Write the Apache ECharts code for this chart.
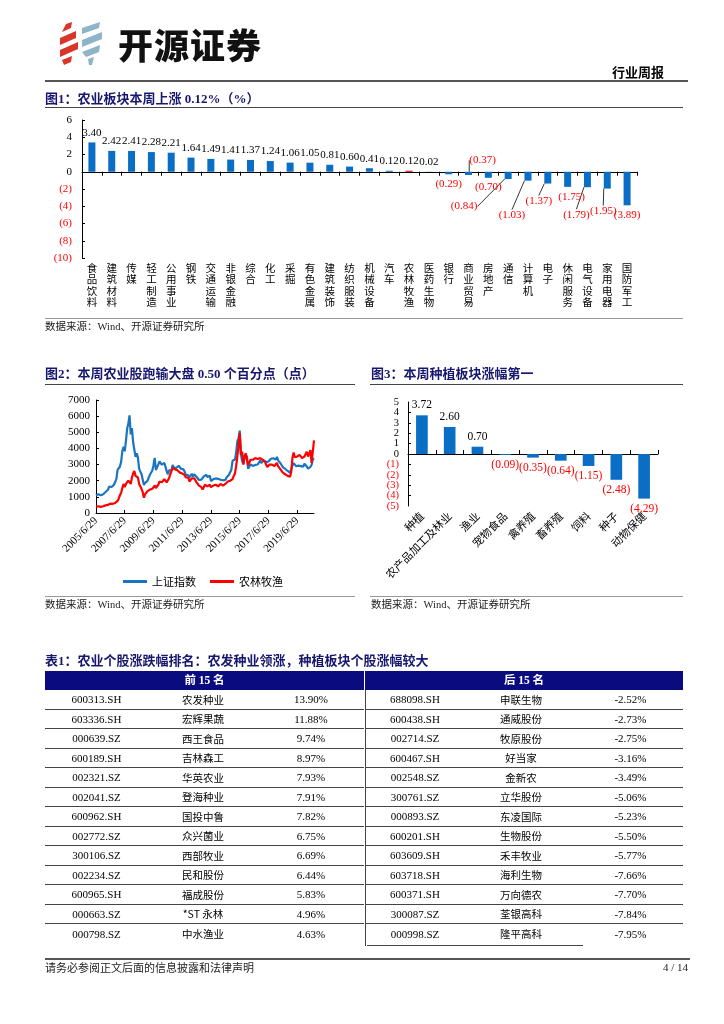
<!DOCTYPE html>
<html>
<head>
<meta charset="utf-8">
<script src="https://cdn.jsdelivr.net/npm/echarts@6/dist/echarts.min.js"></script>
<style>
  html,body{margin:0;padding:0;background:#fff;}
  body{width:724px;height:1024px;position:relative;overflow:hidden;font-family:"Liberation Serif","Noto Sans CJK SC",serif;color:#000;}
  #chart{position:absolute;left:0;top:0;width:724px;height:1024px;}
  .abs{position:absolute;white-space:nowrap;}
  .ttl{font-family:"Liberation Serif","Noto Sans CJK SC",serif;font-weight:bold;color:#17176f;font-size:13px;line-height:16px;}
  .src{font-family:"Liberation Serif","Noto Sans CJK SC",serif;font-size:10.5px;color:#222;line-height:14px;}
  .hl{position:absolute;height:0;border-top:1.5px solid #444;}
  .hlt{position:absolute;height:0;border-top:1px solid #999;}
  .row{position:absolute;height:19.5px;box-sizing:border-box;display:flex;align-items:center;font-size:11px;}
  .row.ln{border-bottom:1px solid #444;}
  .row span{display:block;text-align:center;}
</style>
</head>
<body>
<div id="chart"></div>

<!-- header logo -->
<svg class="abs" style="left:58px;top:22px" width="56" height="44" viewBox="0 0 56 44">
  <polygon points="8,2 14,0 13,6 4,10" fill="#d9362b"/>
  <polygon points="2,16 18,9 18,16 2,23" fill="#d9362b"/>
  <polygon points="2,28 20,20 20,27 2,35" fill="#d9362b"/>
  <polygon points="4,38 14,34 13,40 6,43" fill="#d9362b"/>
  <polygon points="24,6 42,0 41,6 24,12" fill="#8fb3c8"/>
  <polygon points="24,18 44,10 44,17 24,25" fill="#8fb3c8"/>
  <polygon points="24,30 42,23 41,30 28,35" fill="#8fb3c8"/>
  <polygon points="30,37 36,35 34,43 31,43" fill="#8fb3c8"/>
</svg>
<div class="abs" style="left:118px;top:22px;font-family:'Noto Sans CJK SC';font-weight:900;font-size:35px;line-height:44px;letter-spacing:1px;color:#111;">开源证券</div>
<div class="abs" style="left:612px;top:64px;font-family:'Noto Sans CJK SC';font-weight:bold;font-size:13px;line-height:16px;">行业周报</div>
<div class="hl" style="left:45px;top:80px;width:643px;border-top:2px solid #555;"></div>

<div class="abs ttl" style="left:45px;top:91px;">图1：农业板块本周上涨 0.12%（%）</div>
<div class="hl" style="left:45px;top:107px;width:638px;"></div>
<div class="hlt" style="left:45px;top:318px;width:638px;"></div>
<div class="abs src" style="left:45px;top:320px;">数据来源：Wind、开源证券研究所</div>

<div class="abs ttl" style="left:45px;top:366px;">图2：本周农业股跑输大盘 0.50 个百分点（点）</div>
<div class="hl" style="left:45px;top:384px;width:310px;"></div>
<div class="abs ttl" style="left:371px;top:366px;">图3：本周种植板块涨幅第一</div>
<div class="hl" style="left:370px;top:384px;width:313px;"></div>
<div class="hlt" style="left:45px;top:596px;width:310px;"></div>
<div class="hlt" style="left:370px;top:596px;width:313px;"></div>
<div class="abs src" style="left:45px;top:598px;">数据来源：Wind、开源证券研究所</div>
<div class="abs src" style="left:371px;top:598px;">数据来源：Wind、开源证券研究所</div>

<div class="abs ttl" style="left:45px;top:653px;">表1：农业个股涨跌幅排名：农发种业领涨，种植板块个股涨幅较大</div>
<div class="abs" style="left:45px;top:671px;width:638px;height:19px;background:#0b0b80;"></div>
<div class="abs" style="left:364px;top:671px;width:1px;height:19px;background:#fff;"></div>
<div class="abs" style="left:45px;top:671px;width:319px;text-align:center;line-height:19px;font-family:'Liberation Serif','Noto Sans CJK SC';font-weight:bold;font-size:11.5px;color:#fff;">前 15 名</div>
<div class="abs" style="left:365px;top:671px;width:318px;text-align:center;line-height:19px;font-family:'Liberation Serif','Noto Sans CJK SC';font-weight:bold;font-size:11.5px;color:#fff;">后 15 名</div>
<div id="tbl"></div>
<div class="abs" style="left:365px;top:690px;width:1px;height:256px;background:#444;"></div>
<div class="hl" style="left:367px;top:945px;width:216px;border-top:1px solid #444;"></div>

<div class="hl" style="left:45px;top:958px;width:645px;border-top:2px solid #555;"></div>
<div class="abs" style="left:45px;top:960px;font-family:'Noto Sans CJK SC';font-size:11px;line-height:14px;color:#222;">请务必参阅正文后面的信息披露和法律声明</div>
<div class="abs" style="left:640px;top:960px;width:48px;text-align:right;font-family:'Liberation Serif';font-size:11px;line-height:14px;color:#222;">4 / 14</div>

<script>
// ---------- Figure 1 data ----------
const sectors = ['食品饮料','建筑材料','传媒','轻工制造','公用事业','钢铁','交通运输','非银金融','综合','化工','采掘','有色金属','建筑装饰','纺织服装','机械设备','汽车','农林牧渔','医药生物','银行','商业贸易','房地产','通信','计算机','电子','休闲服务','电气设备','家用电器','国防军工'];
const sectorChange = [3.40,2.42,2.41,2.28,2.21,1.64,1.49,1.41,1.37,1.24,1.06,1.05,0.81,0.60,0.41,0.12,0.12,0.02,-0.29,-0.37,-0.70,-0.84,-1.03,-1.37,-1.75,-1.79,-1.95,-3.89];
const highlightSector = '农林牧渔';

// ---------- Figure 2 data (monthly, 2005/6 - 2020/8) ----------
const sseIndex = [
 1080,1083,1162,1155,1092,1099,1161,
 1258,1299,1298,1440,1641,1672,1612,1658,1752,1837,2099,2675,
 2786,2881,3183,3841,4109,3820,4471,5218,5552,6050,4871,5262,
 4383,4348,3473,3693,3433,2736,2775,2397,2293,1729,1871,1821,
 1991,2082,2373,2477,2633,2959,3412,2667,2779,2996,3195,3277,
 2989,3051,3110,2871,2592,2398,2638,2639,2656,2979,2820,2808,
 2790,2905,2928,2912,2743,2762,2701,2568,2359,2468,2333,2199,
 2292,2428,2262,2397,2373,2226,2103,2048,2086,2069,1980,2269,
 2385,2366,2237,2178,2301,1979,1994,2098,2175,2141,2220,2116,
 2033,2056,2033,2026,2039,2048,2202,2217,2364,2420,2683,3235,
 3210,3310,3748,4442,4612,5100,3664,3206,3053,3383,3445,3539,
 2738,2688,3004,2938,2917,2930,2979,3085,3005,3100,3250,3104,
 3159,3242,3223,3155,3117,3192,3273,3361,3349,3393,3317,3307,
 3481,3259,3169,3082,3095,2847,2876,2725,2821,2603,2588,2494,
 2585,2941,3091,3078,2899,2979,2933,2886,2905,2929,2872,3050,
 2977,2880,2750,2860,2852,2985,3310,3396];
const agriIndex = [
 400,390,420,410,380,390,420,
 450,470,470,500,560,580,560,570,600,620,680,750,
 900,1100,1250,1550,1800,1600,1800,1900,2000,1950,1800,2200,
 2450,2600,2300,2400,2200,1800,1900,1500,1300,950,1150,1200,
 1350,1350,1450,1450,1500,1600,1700,1550,1650,1750,1950,2000,
 1900,2000,2100,2000,1900,1950,2150,2400,2600,2800,2750,2700,
 2600,2650,2550,2500,2400,2450,2450,2350,2200,2250,2200,1950,
 2000,2150,2050,2150,2100,1900,1800,1700,1650,1600,1450,1600,
 1750,1750,1650,1600,1750,1600,1650,1700,1800,1750,1700,1650,
 1700,1800,1750,1700,1750,1800,1900,1950,2050,2000,2100,2100,
 2300,2450,2900,3500,4200,4950,3600,3800,3000,3500,3700,3600,
 2950,3100,3300,3250,3300,3350,3400,3300,3350,3400,3400,3300,
 3300,3350,3200,3000,2850,2950,3000,3050,3000,3000,2900,3000,
 3100,2900,2900,2700,2800,2500,2600,2400,2450,2300,2400,2250,
 2550,3400,3750,3450,3400,3500,3400,3600,3500,3400,3300,3500,
 3600,3800,3500,3700,3900,3100,3800,4500];
const lineNames = ['上证指数','农林牧渔'];
const dateStart = [2005, 6];
const dateLabels = [];
for (let i = 0; i < sseIndex.length; i++) {
  const m = dateStart[1] - 1 + i;
  dateLabels.push((dateStart[0] + Math.floor(m / 12)) + '/' + (m % 12 + 1) + '/29');
}

// ---------- Figure 3 data ----------
const subSectors = ['种植','农产品加工及林业','渔业','宠物食品','禽养殖','畜养殖','饲料','种子','动物保健'];
const subChange = [3.72,2.60,0.70,-0.09,-0.35,-0.64,-1.15,-2.48,-4.29];

// ---------- Table 1 data ----------
const topCodes = ['600313.SH','603336.SH','000639.SZ','600189.SH','002321.SZ','002041.SZ','600962.SH','002772.SZ','300106.SZ','002234.SZ','600965.SH','000663.SZ','000798.SZ'];
const topNames = ['农发种业','宏辉果蔬','西王食品','吉林森工','华英农业','登海种业','国投中鲁','众兴菌业','西部牧业','民和股份','福成股份','*ST 永林','中水渔业'];
const topPct = ['13.90%','11.88%','9.74%','8.97%','7.93%','7.91%','7.82%','6.75%','6.69%','6.44%','5.83%','4.96%','4.63%'];
const botCodes = ['688098.SH','600438.SH','002714.SZ','600467.SH','002548.SZ','300761.SZ','000893.SZ','600201.SH','603609.SH','603718.SH','600371.SH','300087.SZ','000998.SZ'];
const botNames = ['申联生物','通威股份','牧原股份','好当家','金新农','立华股份','东凌国际','生物股份','禾丰牧业','海利生物','万向德农','荃银高科','隆平高科'];
const botPct = ['-2.52%','-2.73%','-2.75%','-3.16%','-3.49%','-5.06%','-5.23%','-5.50%','-5.77%','-7.66%','-7.70%','-7.84%','-7.95%'];

// ---------- build table ----------
function buildTable(codes, names, pcts, left, widths) {
  const total = widths.reduce((a, b) => a + b, 0);
  let h = '';
  for (let i = 0; i < codes.length; i++) {
    const top = 690 + i * 19.5;
    h += '<div class="row' + (i < codes.length - 1 ? ' ln' : '') + '" style="left:' + left + 'px;top:' + top + 'px;width:' + total + 'px">' +
      '<span style="width:' + widths[0] + 'px">' + codes[i] + '</span>' +
      '<span style="width:' + widths[1] + 'px;font-family:\'Noto Sans CJK SC\';font-size:10.5px">' + names[i] + '</span>' +
      '<span style="width:' + widths[2] + 'px">' + pcts[i] + '</span></div>';
  }
  return h;
}
document.getElementById('tbl').innerHTML =
  buildTable(topCodes, topNames, topPct, 45, [103, 110, 106]) +
  buildTable(botCodes, botNames, botPct, 366, [98, 114, 105]);

// ---------- chart ----------
const BLUE = '#0b6ec5', RED = '#ff0000';
const serif = 'Liberation Serif';
const cjk = 'Noto Sans CJK SC';
const fmtNum = v => v < 0 ? '(' + Math.abs(v).toFixed(2) + ')' : v.toFixed(2);
const fmtAxis = v => v < 0 ? '(' + Math.abs(v) + ')' : String(v);
const axisColor = v => (Number(v) < 0 ? RED : '#000');
const fig3Min = -5, fig3Max = 5;

// label adjustments (style only) for figure 1 negative labels: [dx, dy, leader]
const fig1LabelMove = {19: [14, -24, 1], 21: [-44, 18, 1], 22: [-16, 25, 1], 23: [-9, 8, 1], 24: [4, 1, 0], 25: [-11, 18, 1], 26: [-4, 13, 1]};

const bar1Data = sectorChange.map((v, i) => {
  const item = {
    value: v,
    itemStyle: { color: sectors[i] === highlightSector ? '#c00000' : BLUE },
    label: { position: v >= 0 ? 'top' : 'bottom', color: v >= 0 ? '#000' : RED }
  };
  const mv = fig1LabelMove[i];
  if (mv && mv[2]) item.labelLine = { show: true, lineStyle: { color: '#000', width: 0.8 } };
  return item;
});

const bar3Data = subChange.map(v => ({
  value: v,
  label: { position: v >= 0 ? 'top' : 'bottom', color: v >= 0 ? '#000' : RED }
}));

const chart = echarts.init(document.getElementById('chart'), null, { renderer: 'canvas' });
chart.setOption({
  animation: false,
  grid: [
    { left: 82, top: 120, width: 555, height: 138 },
    { left: 96, top: 400, width: 218, height: 113 },
    { left: 408, top: 402, width: 250, height: 104 }
  ],
  legend: {
    data: lineNames, left: 118, top: 571, icon: 'rect', itemWidth: 24, itemHeight: 3, itemGap: 14,
    textStyle: { fontFamily: cjk, fontSize: 11, color: '#000' }
  },
  xAxis: [
    { type: 'category', gridIndex: 0, data: sectors,
      axisLine: { onZero: true, lineStyle: { color: '#000', width: 1 } },
      axisTick: { show: true, length: 4, lineStyle: { color: '#000' } },
      axisLabel: { interval: 0, margin: 4, fontFamily: cjk, fontSize: 10.5, lineHeight: 11.5, color: '#000',
        verticalAlign: 'top', formatter: s => s.split('').join('\n') } },
    { type: 'category', gridIndex: 1, data: dateLabels, boundaryGap: false,
      axisLine: { lineStyle: { color: '#000', width: 1 } },
      axisTick: { show: true, inside: true, length: 3, interval: 23, lineStyle: { color: '#000' } },
      axisLabel: { interval: 23, rotate: 45, margin: 6, fontFamily: serif, fontSize: 11, color: '#000' } },
    { type: 'category', gridIndex: 2, data: subSectors,
      axisLine: { onZero: true, lineStyle: { color: '#000', width: 1 } },
      axisTick: { show: true, inside: true, length: 4, lineStyle: { color: '#000' } },
      axisLabel: { interval: 0, rotate: 45, margin: 8, fontFamily: cjk, fontSize: 11, color: '#000' } }
  ],
  yAxis: [
    { type: 'value', gridIndex: 0, min: -10, max: 6, interval: 2,
      axisLine: { show: true, lineStyle: { color: '#000' } },
      axisTick: { show: true, inside: true, length: 3, lineStyle: { color: '#000' } },
      splitLine: { show: false },
      axisLabel: { fontFamily: serif, fontSize: 11, margin: 10, formatter: fmtAxis, color: axisColor,
        showMinLabel: true, showMaxLabel: true } },
    { type: 'value', gridIndex: 1, min: 0, max: 7000, interval: 1000,
      axisLine: { show: true, lineStyle: { color: '#000' } },
      axisTick: { show: true, inside: true, length: 3, lineStyle: { color: '#000' } },
      splitLine: { show: false },
      axisLabel: { fontFamily: serif, fontSize: 11, margin: 6, color: '#000', formatter: v => String(v),
        showMinLabel: true, showMaxLabel: true } },
    { type: 'value', gridIndex: 2, min: fig3Min, max: fig3Max, interval: 1,
      axisLine: { show: true, lineStyle: { color: '#000' } },
      axisTick: { show: true, inside: true, length: 3, lineStyle: { color: '#000' } },
      splitLine: { show: false },
      axisLabel: { fontFamily: serif, fontSize: 10.5, margin: 9, formatter: fmtAxis, color: axisColor,
        showMinLabel: false, showMaxLabel: false } },
    { type: 'value', gridIndex: 2, min: fig3Min, max: fig3Max, interval: 1, position: 'left',
      axisLine: { show: false }, axisTick: { show: false }, splitLine: { show: false },
      axisLabel: { fontFamily: serif, fontSize: 10.5, margin: 9, color: axisColor,
        formatter: v => (v === fig3Min || v === fig3Max) ? fmtAxis(v) : '',
        showMinLabel: true, showMaxLabel: true } }
  ],
  series: [
    { type: 'bar', xAxisIndex: 0, yAxisIndex: 0, data: bar1Data, barWidth: 7,
      label: { show: true, distance: 4, fontFamily: serif, fontSize: 11, formatter: p => fmtNum(p.value) },
      labelLayout: p => { const mv = fig1LabelMove[p.dataIndex]; return mv ? { dx: mv[0], dy: mv[1] } : {}; } },
    { type: 'line', name: lineNames[0], xAxisIndex: 1, yAxisIndex: 1, data: sseIndex, showSymbol: false,
      color: '#1a75c0', lineStyle: { width: 2.2, color: '#1a75c0' } },
    { type: 'line', name: lineNames[1], xAxisIndex: 1, yAxisIndex: 1, data: agriIndex, showSymbol: false,
      color: RED, lineStyle: { width: 2.2, color: RED } },
    { type: 'bar', xAxisIndex: 2, yAxisIndex: 2, data: bar3Data, barWidth: '42%',
      itemStyle: { color: BLUE },
      label: { show: true, distance: 4, fontFamily: serif, fontSize: 11.5, formatter: p => fmtNum(p.value) } }
  ]
});
</script>
</body>
</html>
